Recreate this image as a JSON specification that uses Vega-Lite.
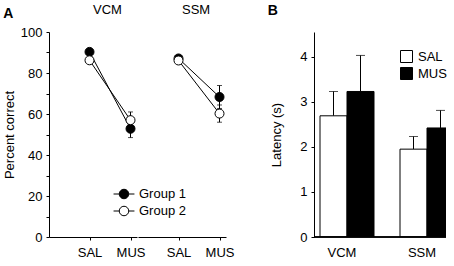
{
  "$schema": "https://vega.github.io/schema/vega-lite/v6.json",
  "padding": {"left": 3, "top": 4, "right": 0, "bottom": 0},
  "config": {
    "font": "Liberation Sans",
    "view": {"stroke": null},
    "axis": {"grid": false, "domainColor": "black", "tickColor": "black", "labelColor": "black", "titleColor": "black", "labelFontSize": 13, "titleFontSize": 13, "titleFontWeight": "normal", "tickSize": 3, "domainWidth": 1, "tickWidth": 1},
    "header": {"labelFontSize": 13, "labelColor": "black"},
    "title": {"fontSize": 14, "fontWeight": "bold", "anchor": "start", "color": "black"},
    "legend": {"labelFontSize": 13, "labelColor": "black"}
  },
  "spacing": 33,
  "resolve": {"scale": {"fill": "independent", "x": "independent", "y": "independent"}, "legend": {"fill": "independent"}},
  "hconcat": [
    {
      "title": {"text": "A", "frame": "bounds", "offset": -17},
      "data": {"values": [
        {"task": "VCM", "drug": "SAL", "group": "Group 1", "mean": 90.3, "err": 1.5},
        {"task": "VCM", "drug": "MUS", "group": "Group 1", "mean": 52.8, "err": 4.3},
        {"task": "SSM", "drug": "SAL", "group": "Group 1", "mean": 87.1, "err": 1.0},
        {"task": "SSM", "drug": "MUS", "group": "Group 1", "mean": 68.3, "err": 5.6},
        {"task": "VCM", "drug": "SAL", "group": "Group 2", "mean": 86.2, "err": 1.5},
        {"task": "VCM", "drug": "MUS", "group": "Group 2", "mean": 57.0, "err": 4.0},
        {"task": "SSM", "drug": "SAL", "group": "Group 2", "mean": 86.1, "err": 1.0},
        {"task": "SSM", "drug": "MUS", "group": "Group 2", "mean": 60.2, "err": 4.2}
      ]},
      "facet": {"column": {"field": "task", "type": "nominal", "sort": ["VCM", "SSM"], "header": {"title": null, "labelAlign": "left", "labelAnchor": "middle", "labelPadding": 15}}},
      "spacing": 0,
      "spec": {
        "width": 88,
        "height": 205,
        "encoding": {
          "x": {"field": "drug", "type": "nominal", "sort": ["SAL", "MUS"], "scale": {"type": "point", "padding": 0.573, "align": 0.862}, "axis": {"title": null, "labelAngle": 0, "labelPadding": 6}},
          "y": {"field": "mean", "type": "quantitative", "scale": {"domain": [0, 100], "nice": false}, "axis": {"title": "Percent correct", "values": [0, 10, 20, 30, 40, 50, 60, 70, 80, 90, 100], "labelExpr": "datum.value % 20 === 0 ? datum.label : ''", "labelPadding": 4, "titlePadding": 4}}
        },
        "layer": [
          {"mark": {"type": "line", "color": "black", "strokeWidth": 1}, "encoding": {"detail": {"field": "group"}}},
          {"mark": {"type": "errorbar", "color": "black", "ticks": {"size": 5}}, "encoding": {"yError": {"field": "err"}, "detail": {"field": "group"}}},
          {"mark": {"type": "point", "shape": "circle", "filled": true, "size": 81, "stroke": "black", "strokeWidth": 1, "opacity": 1},
           "encoding": {"fill": {"field": "group", "type": "nominal", "scale": {"domain": ["Group 1", "Group 2"], "range": ["black", "white"]},
             "legend": {"title": null, "orient": "none", "legendX": 65, "legendY": 152, "symbolType": "M-1.1,0L-0.5,0M0.5,0L1.1,0M-0.5,0A0.5,0.5,0,1,1,0.5,0A0.5,0.5,0,1,1,-0.5,0Z", "symbolSize": 361, "symbolStrokeColor": "black", "symbolStrokeWidth": 1, "labelOffset": 5, "rowPadding": 0, "labelFontSize": 13}}}}
        ]
      }
    },
    {
      "title": {"text": "B", "frame": "bounds", "offset": 14, "dx": -3},
      "width": 132,
      "height": 205,
      "data": {"values": [
        {"task": "VCM", "drug": "SAL", "mean": 2.69, "hi": 3.23},
        {"task": "VCM", "drug": "MUS", "mean": 3.23, "hi": 4.03},
        {"task": "SSM", "drug": "SAL", "mean": 1.95, "hi": 2.23},
        {"task": "SSM", "drug": "MUS", "mean": 2.42, "hi": 2.81}
      ]},
      "layer": [
        {"mark": {"type": "rule", "color": "black", "strokeWidth": 1, "clip": true},
         "encoding": {
           "x": {"field": "task", "type": "nominal", "sort": ["VCM", "SSM"], "scale": {"range": [0, 146], "paddingInner": 0.325, "paddingOuter": 0.075}, "axis": {"title": null, "labelAngle": 0, "domain": false, "ticks": false, "labelPadding": 9, "labelOffset": -5}},
           "xOffset": {"field": "drug", "type": "nominal", "sort": ["SAL", "MUS"]},
           "y": {"field": "mean", "type": "quantitative", "scale": {"domain": [0, 4.55], "nice": false}, "axis": {"title": "Latency (s)", "values": [0, 0.5, 1, 1.5, 2, 2.5, 3, 3.5, 4, 4.5], "labelExpr": "datum.value % 1 === 0 ? datum.label : ''", "titlePadding": 16, "labelPadding": 4}},
           "y2": {"field": "hi"}
         }},
        {"mark": {"type": "tick", "orient": "horizontal", "color": "black", "thickness": 1, "size": 9, "clip": true},
         "encoding": {
           "x": {"field": "task", "type": "nominal", "sort": ["VCM", "SSM"]},
           "xOffset": {"field": "drug", "type": "nominal", "sort": ["SAL", "MUS"]},
           "y": {"field": "hi", "type": "quantitative"}
         }},
        {"mark": {"type": "bar", "stroke": "black", "strokeWidth": 1, "clip": true},
         "encoding": {
           "x": {"field": "task", "type": "nominal", "sort": ["VCM", "SSM"]},
           "xOffset": {"field": "drug", "type": "nominal", "sort": ["SAL", "MUS"]},
           "y": {"field": "mean", "type": "quantitative"},
           "fill": {"field": "drug", "type": "nominal", "sort": ["SAL", "MUS"], "scale": {"domain": ["SAL", "MUS"], "range": ["white", "black"]},
             "legend": {"title": null, "orient": "none", "legendX": 86, "legendY": 18, "symbolType": "square", "symbolSize": 144, "symbolStrokeColor": "black", "symbolStrokeWidth": 1, "symbolOpacity": 1, "labelOffset": 5, "rowPadding": 0, "labelFontSize": 13}}
         }},
        {"mark": {"type": "rule", "color": "black", "strokeWidth": 1}, "encoding": {"y": {"datum": 0, "type": "quantitative"}}}
      ]
    }
  ]
}
